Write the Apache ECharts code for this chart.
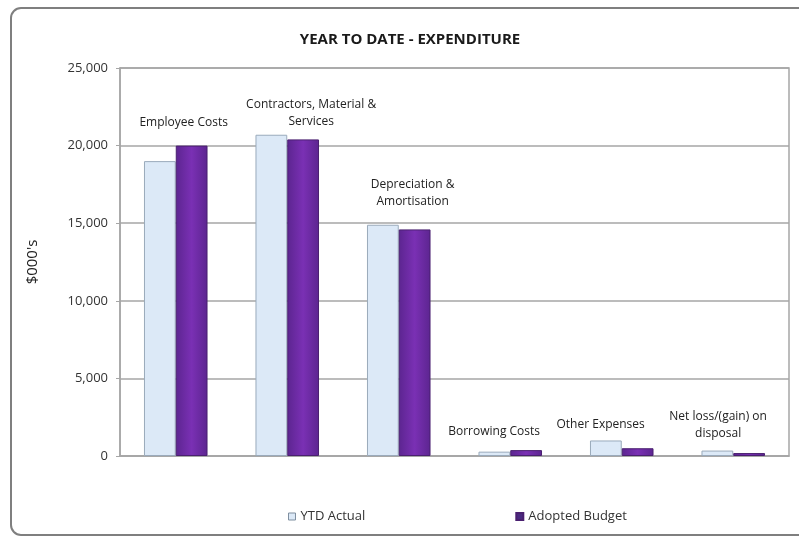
<!DOCTYPE html>
<html>
<head>
<meta charset="utf-8">
<script src="https://cdn.jsdelivr.net/npm/echarts@6/dist/echarts.min.js"></script>
<style>
  html, body { margin: 0; padding: 0; background: #ffffff; }
  #chart { width: 799px; height: 537px; }
</style>
</head>
<body>
<div id="chart"></div>
<script>
// Expenditure categories and year-to-date values ($000's)
const categories = [
  'Employee Costs',
  'Contractors, Material &\nServices',
  'Depreciation &\nAmortisation',
  'Borrowing Costs',
  'Other Expenses',
  'Net loss/(gain) on\ndisposal'
];
const ytdActual = [19000, 20700, 14900, 280, 1000, 350];
const adoptedBudget = [20000, 20400, 14600, 380, 500, 190];
const yTicks = [0, 5000, 10000, 15000, 20000, 25000];

// Nudges for the category captions drawn above each pair of bars
const captionNudge = [[-8, -15], [8, -9], [-2, -19], [-32, -10], [-37, -15], [-31, -11]];

const FONT = '"Open Sans", Lato, sans-serif';

const purpleFill = new echarts.graphic.LinearGradient(0, 0, 1, 0, [
  { offset: 0, color: '#5c2590' },
  { offset: 0.5, color: '#7a30b4' },
  { offset: 1, color: '#5c2590' }
]);

const chart = echarts.init(document.getElementById('chart'), null, { renderer: 'canvas' });

chart.setOption({
  animation: false,
  backgroundColor: '#ffffff',
  title: {
    text: 'YEAR TO DATE - EXPENDITURE',
    left: 405,
    top: 27,
    textAlign: 'center',
    textStyle: { fontFamily: FONT, fontSize: 15, fontWeight: 'bold', color: '#1a1a1a' }
  },
  graphic: [{
    type: 'rect',
    shape: { x: 11, y: 8, width: 800, height: 527, r: 10 },
    style: { fill: 'none', stroke: '#7f7f7f', lineWidth: 2 },
    silent: true,
    z: -1
  }],
  legend: {
    left: 283,
    top: 505,
    itemGap: 150,
    itemWidth: 7,
    itemHeight: 7,
    icon: 'rect',
    textStyle: { fontFamily: FONT, fontSize: 13, color: '#333' },
    data: [
      { name: 'YTD Actual', itemStyle: { color: '#dce9f7', borderColor: '#7f8fa0', borderWidth: 1 } },
      { name: 'Adopted Budget', itemStyle: { color: '#4a2a80' } }
    ]
  },
  grid: { left: 120, right: 10, top: 68, bottom: 81, show: true, borderColor: '#a6a6a6', borderWidth: 1.5 },
  xAxis: {
    type: 'category',
    data: categories,
    axisLine: { lineStyle: { color: '#a6a6a6', width: 1.5 } },
    axisTick: { show: false },
    axisLabel: { show: false },
    splitLine: { show: false }
  },
  yAxis: {
    type: 'value',
    min: yTicks[0],
    max: yTicks[yTicks.length - 1],
    interval: yTicks[1] - yTicks[0],
    name: "$000's",
    nameLocation: 'middle',
    nameGap: 80,
    nameTextStyle: { fontFamily: FONT, fontSize: 15, color: '#222' },
    axisLine: { show: true, lineStyle: { color: '#a6a6a6', width: 1.5 } },
    axisTick: { show: true, length: 4, lineStyle: { color: '#a6a6a6' } },
    axisLabel: {
      margin: 12,
      fontFamily: FONT,
      fontSize: 13,
      color: '#333',
      formatter: v => v.toLocaleString('en-US')
    },
    splitLine: { lineStyle: { color: '#a6a6a6', width: 1.5 } }
  },
  series: [
    {
      name: 'YTD Actual',
      type: 'bar',
      barGap: '0%',
      barCategoryGap: '43%',
      data: ytdActual,
      itemStyle: { color: '#dce9f7', borderColor: '#9aaabb', borderWidth: 1 }
    },
    {
      name: 'Adopted Budget',
      type: 'bar',
      data: adoptedBudget.map((v, i) => ({
        value: v,
        label: { offset: captionNudge[i] }
      })),
      itemStyle: { color: purpleFill, borderColor: '#4a2070', borderWidth: 1 },
      label: {
        show: true,
        position: 'top',
        distance: 0,
        formatter: p => categories[p.dataIndex],
        fontFamily: FONT,
        fontSize: 12,
        lineHeight: 17,
        align: 'center',
        color: '#222'
      }
    }
  ]
});
</script>
</body>
</html>
